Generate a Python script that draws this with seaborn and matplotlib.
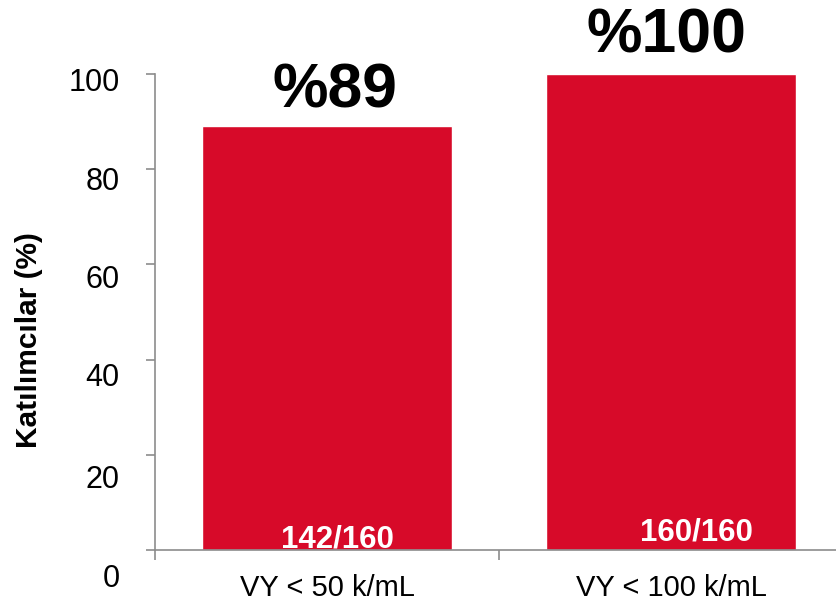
import matplotlib
matplotlib.use("Agg")
import matplotlib.pyplot as plt
from matplotlib.transforms import ScaledTranslation
import seaborn as sns
import pandas as pd

# Chart data
categories = ["VY < 50 k/mL", "VY < 100 k/mL"]
percentages = [89, 100]
counts = ["142/160", "160/160"]
top_labels = ["%89", "%100"]
y_ticks = [0, 20, 40, 60, 80, 100]

sns.set_theme(style="white")
plt.rcParams["font.family"] = ["Liberation Sans", "DejaVu Sans"]

BAR_RED = "#D70A29"
AXIS_GREY = "#8C8C8C"

fig = plt.figure(figsize=(8.36, 6.05), dpi=100)
ax = fig.add_axes([0.1854, 0.0909, 0.823, 0.7868])

df = pd.DataFrame({"kategori": categories, "oran": percentages})
sns.barplot(data=df, x="kategori", y="oran", color=BAR_RED, saturation=1,
            width=0.724, ax=ax)

ax.set_xlim(-0.5, 1.5)
ax.set_ylim(0, 100)

# Spines
for side in ("top", "right"):
    ax.spines[side].set_visible(False)
for side in ("left", "bottom"):
    ax.spines[side].set_color(AXIS_GREY)
    ax.spines[side].set_linewidth(1.2)

# Y axis ticks and labels
ax.set_yticks(y_ticks)
ax.set_yticklabels([str(v) for v in y_ticks], fontsize=22, color="black")
ax.tick_params(axis="y", direction="out", length=6.5, width=1.2,
               color=AXIS_GREY, pad=19, left=True)
# labels drift slightly downward toward the bottom of the scale
label_shift_px = {100: 6, 80: 9, 60: 12, 40: 15, 20: 22, 0: 25}
for lab, v in zip(ax.get_yticklabels(), y_ticks):
    lab.set_transform(lab.get_transform() +
                      ScaledTranslation(0, -label_shift_px[v] / 100, fig.dpi_scale_trans))

# X axis: category labels without ticks, separators as minor ticks
ax.set_xticks([0, 1])
ax.set_xticklabels(categories, fontsize=21, color="black")
ax.set_xticks([-0.5, 0.5, 1.5], minor=True)
ax.tick_params(axis="x", which="major", length=0, pad=17)
ax.tick_params(axis="x", which="minor", direction="out", length=7, width=1.2,
               color=AXIS_GREY, bottom=True)
ax.set_xlabel("")
ax.set_ylabel("Katılımcılar (%)", fontsize=21.5, fontweight="bold", color="black")
ax.yaxis.set_label_coords(-0.163, 0.441)

# Percent values above the bars
for i, (val, txt) in enumerate(zip(percentages, top_labels)):
    ax.annotate(txt, xy=(i, val), xytext=(6 if i == 0 else -3, 4 if i == 0 else 6),
                textcoords="offset points", ha="center", va="bottom",
                fontsize=45, fontweight="bold", color="black", clip_on=False)

# Participant counts inside the bars
count_dx = [0.03, 0.075]
count_dy = [1.5, 6.5]
for i, txt in enumerate(counts):
    ax.annotate(txt, xy=(i + count_dx[i], 0), xytext=(0, count_dy[i]),
                textcoords="offset points", ha="center", va="baseline",
                fontsize=22.5, fontweight="bold", color="white")

fig.savefig("out.png", dpi=100)
